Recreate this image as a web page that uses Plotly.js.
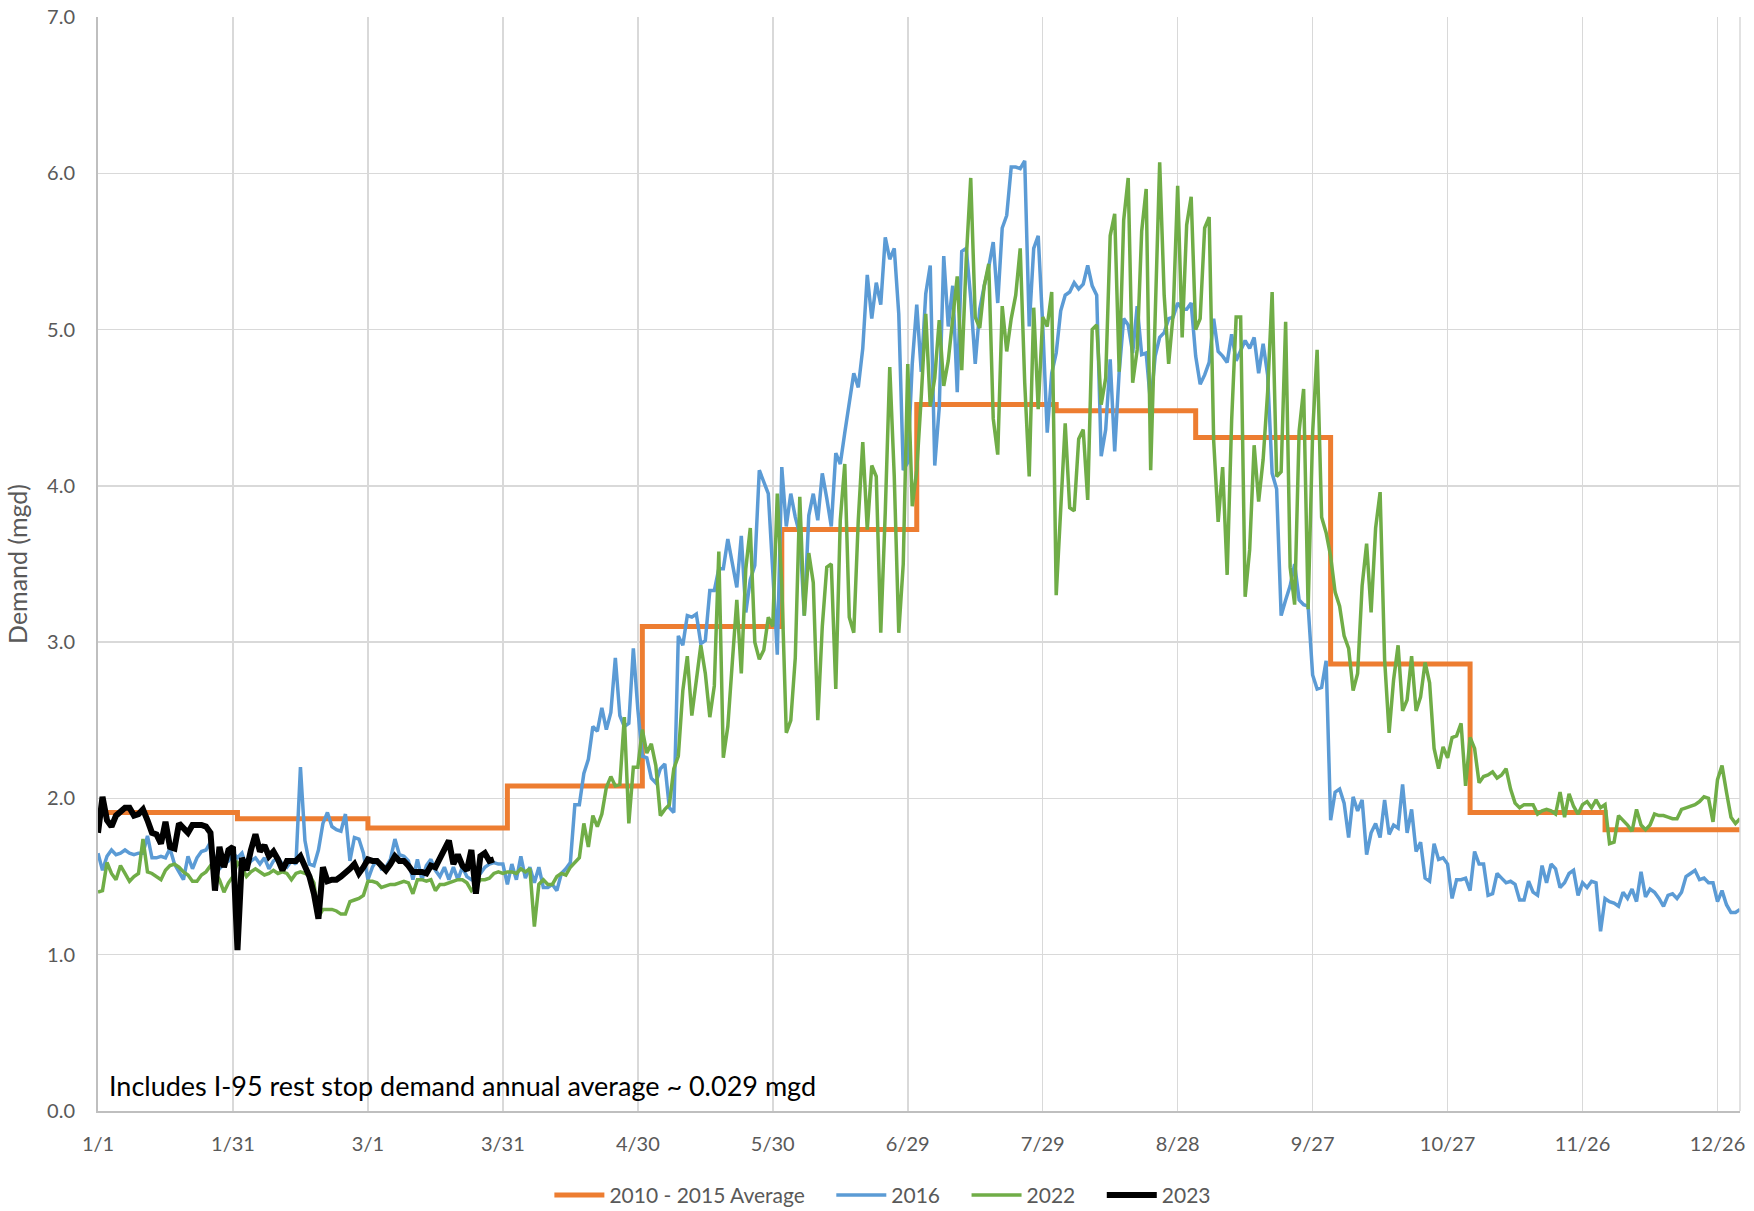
<!DOCTYPE html>
<html>
<head>
<meta charset="utf-8">
<script src="https://cdn.plot.ly/plotly-3.0.1.min.js"></script>
<style>html,body{margin:0;padding:0;background:#fff;}#chart{width:1754px;height:1211px;}</style>
</head>
<body>
<div id="chart"></div>
<script>
// ---- Data ----
const tickLabels = ['1/1','1/31','3/1','3/31','4/30','5/30','6/29','7/29','8/28','9/27','10/27','11/26','12/26'];
const seriesNames = ['2010 - 2015 Average', '2016', '2022', '2023'];
const monthLengths2016 = [31,29,31,30,31,30,31,31,30,31,30,31];
const avg2010_2015 = [1.91,1.87,1.81,2.08,3.10,3.72,4.52,4.48,4.31,2.86,1.91,1.80];

const demand2016 = [
1.65,1.54,1.63,1.67,1.64,1.65,1.67,1.65,1.64,1.65,
1.65,1.76,1.62,1.62,1.63,1.62,1.68,1.58,1.53,1.48,
1.63,1.55,1.62,1.66,1.67,1.72,1.60,1.55,1.58,1.60,
1.65,1.62,1.65,1.56,1.60,1.62,1.58,1.62,1.55,1.60,
1.62,1.58,1.56,1.60,1.58,2.20,1.73,1.58,1.57,1.67,
1.84,1.91,1.82,1.80,1.79,1.90,1.60,1.75,1.74,1.65,
1.48,1.56,1.61,1.55,1.56,1.61,1.74,1.64,1.63,1.60,
1.48,1.61,1.48,1.57,1.61,1.54,1.50,1.56,1.48,1.56,
1.48,1.56,1.50,1.48,1.50,1.52,1.56,1.58,1.59,1.58,
1.58,1.45,1.58,1.48,1.63,1.49,1.56,1.46,1.56,1.43,
1.43,1.45,1.41,1.52,1.55,1.59,1.96,1.96,2.16,2.25,
2.46,2.43,2.58,2.44,2.55,2.90,2.53,2.46,2.48,2.96,
2.57,2.27,2.26,2.13,2.10,2.19,2.22,1.94,1.91,3.04,
2.98,3.17,3.16,3.18,2.99,3.01,3.33,3.33,3.47,3.47,
3.66,3.49,3.35,3.68,3.19,3.40,3.49,4.10,4.02,3.95,
3.45,2.92,4.12,3.74,3.95,3.80,3.69,3.17,3.81,3.95,
3.78,4.08,3.92,3.74,4.21,4.14,4.34,4.52,4.72,4.63,
4.88,5.35,5.07,5.30,5.16,5.59,5.45,5.52,5.10,4.10,
4.15,4.78,5.16,4.73,5.23,5.41,4.13,4.50,5.47,5.02,
5.28,4.60,5.50,5.52,5.20,4.78,5.13,5.28,5.40,5.56,
5.17,5.65,5.73,6.04,6.04,6.03,6.08,5.02,5.52,5.60,
5.03,4.34,4.72,4.85,5.12,5.22,5.24,5.30,5.26,5.29,
5.41,5.28,5.22,4.19,4.36,4.81,4.22,4.73,5.07,5.03,
4.85,5.15,4.84,4.85,4.52,4.83,4.95,4.98,5.07,5.08,
5.17,5.13,5.13,5.17,4.83,4.65,4.71,4.79,5.07,4.86,
4.83,4.79,4.97,4.80,4.87,4.93,4.88,4.95,4.72,4.91,
4.71,4.08,3.98,3.17,3.27,3.36,3.50,3.27,3.24,3.23,
2.79,2.70,2.71,2.88,1.86,2.04,2.06,1.97,1.75,2.01,
1.92,1.99,1.64,1.78,1.84,1.75,1.99,1.77,1.83,1.81,
2.09,1.78,1.93,1.66,1.72,1.49,1.47,1.71,1.61,1.62,
1.58,1.36,1.48,1.48,1.49,1.41,1.66,1.58,1.58,1.38,
1.39,1.52,1.49,1.46,1.47,1.45,1.35,1.35,1.47,1.40,
1.38,1.57,1.46,1.58,1.55,1.43,1.46,1.52,1.54,1.38,
1.46,1.43,1.47,1.46,1.15,1.36,1.34,1.33,1.31,1.40,
1.36,1.42,1.34,1.53,1.37,1.42,1.40,1.36,1.31,1.38,
1.39,1.36,1.40,1.50,1.52,1.54,1.48,1.49,1.46,1.46,
1.34,1.41,1.32,1.27,1.27,1.29
];

const demand2022 = [
1.40,1.41,1.59,1.52,1.48,1.57,1.52,1.47,1.50,1.52,
1.74,1.53,1.52,1.50,1.48,1.54,1.57,1.58,1.56,1.53,
1.51,1.47,1.47,1.51,1.53,1.57,1.53,1.48,1.40,1.46,
1.50,1.59,1.56,1.50,1.53,1.55,1.53,1.51,1.52,1.54,
1.52,1.53,1.52,1.48,1.52,1.53,1.52,1.51,1.46,1.24,
1.29,1.29,1.29,1.28,1.26,1.26,1.34,1.35,1.36,1.38,
1.47,1.47,1.46,1.43,1.44,1.45,1.45,1.46,1.47,1.46,
1.39,1.48,1.48,1.47,1.48,1.41,1.45,1.45,1.46,1.47,
1.48,1.48,1.46,1.41,1.44,1.48,1.48,1.49,1.52,1.53,
1.52,1.53,1.53,1.52,1.55,1.53,1.55,1.18,1.45,1.48,
1.45,1.45,1.50,1.52,1.51,1.56,1.59,1.62,1.84,1.69,
1.89,1.82,1.90,2.07,2.14,2.08,2.09,2.52,1.84,2.20,
2.20,2.44,2.29,2.35,2.21,1.89,1.93,1.96,2.19,2.27,
2.69,2.91,2.53,2.76,2.98,2.80,2.52,2.72,3.58,2.26,
2.46,2.87,3.27,2.80,3.47,3.73,3.00,2.89,2.95,3.16,
3.10,3.95,3.36,2.42,2.50,2.90,3.93,3.17,3.57,3.38,
2.50,3.10,3.48,3.50,2.70,3.78,4.14,3.16,3.06,3.78,
4.28,3.72,4.13,4.06,3.06,3.83,4.76,4.06,3.06,3.50,
4.78,3.87,4.10,4.57,5.10,4.51,4.69,5.06,4.64,4.80,
5.06,5.34,4.74,5.45,5.97,5.08,5.01,5.28,5.42,4.43,
4.20,5.15,4.86,5.07,5.22,5.52,4.66,4.06,5.14,4.49,
5.08,5.02,5.24,3.30,3.85,4.40,3.86,3.84,4.30,4.36,
3.91,5.00,5.03,4.52,4.69,5.60,5.74,4.73,5.70,5.97,
4.66,4.87,5.63,5.90,4.10,5.13,6.07,5.22,4.78,5.10,
5.92,4.95,5.67,5.85,5.00,5.07,5.65,5.72,4.29,3.77,
4.12,3.43,4.42,5.08,5.08,3.29,3.59,4.26,3.90,4.17,
4.60,5.24,4.06,4.09,5.05,3.48,3.24,4.35,4.62,3.21,
4.34,4.87,3.80,3.70,3.55,3.32,3.23,3.04,2.96,2.69,
2.80,3.36,3.63,3.19,3.73,3.96,2.89,2.42,2.76,2.98,
2.56,2.63,2.91,2.56,2.65,2.87,2.74,2.32,2.19,2.33,
2.26,2.39,2.40,2.48,2.08,2.39,2.32,2.10,2.14,2.15,
2.17,2.13,2.15,2.19,2.06,1.97,1.94,1.96,1.96,1.96,
1.90,1.92,1.93,1.92,1.90,2.04,1.88,2.03,1.95,1.90,
1.96,1.98,1.94,1.99,1.94,1.96,1.71,1.72,1.89,1.86,
1.83,1.79,1.93,1.83,1.80,1.83,1.90,1.89,1.89,1.88,
1.87,1.87,1.93,1.94,1.95,1.96,1.98,2.01,2.00,1.85,
2.12,2.21,2.04,1.88,1.84,1.87
];

const demand2023 = [
1.78,2.01,1.86,1.82,1.89,1.91,1.94,1.94,1.89,1.90,
1.93,1.86,1.78,1.77,1.71,1.85,1.69,1.68,1.84,1.81,
1.78,1.83,1.83,1.83,1.82,1.78,1.41,1.69,1.56,1.67,
1.69,1.03,1.62,1.54,1.67,1.77,1.66,1.70,1.63,1.66,
1.61,1.54,1.60,1.60,1.60,1.63,1.57,1.50,1.39,1.23,
1.56,1.47,1.48,1.48,1.50,1.52,1.55,1.58,1.52,1.56,
1.61,1.60,1.60,1.57,1.54,1.58,1.63,1.60,1.60,1.57,
1.53,1.53,1.53,1.52,1.57,1.56,1.62,1.68,1.73,1.58,
1.64,1.57,1.54,1.67,1.39,1.63,1.65,1.60,1.61
];

// ---- Build traces ----
const dayIdx = arr => arr.map((_, i) => i);
const monthStart = [0];
monthLengths2016.forEach(len => monthStart.push(monthStart[monthStart.length - 1] + len));
const avgY = avg2010_2015.concat([avg2010_2015[avg2010_2015.length - 1]]);
const tickVals = tickLabels.map((_, i) => i * 30);
// legend spacing: pad all but the last entry with non-breaking spaces
const PAD = '\u00A0\u00A0\u00A0\u00A0';
const legendName = i => seriesNames[i] + (i < seriesNames.length - 1 ? PAD : '');

const FONT = 'Lato, "Open Sans", sans-serif';
const GREY = '#595959';

const traces = [
  {x: monthStart, y: avgY, name: legendName(0), mode: 'lines',
   line: {color: '#ED7D31', width: 5, shape: 'hv'}},
  {x: dayIdx(demand2016), y: demand2016, name: legendName(1), mode: 'lines',
   line: {color: '#5B9BD5', width: 3.5}},
  {x: dayIdx(demand2022), y: demand2022, name: legendName(2), mode: 'lines',
   line: {color: '#70AD47', width: 3.5}},
  {x: dayIdx(demand2023), y: demand2023, name: legendName(3), mode: 'lines',
   line: {color: '#000000', width: 6}}
];

const layout = {
  width: 1754, height: 1211,
  paper_bgcolor: '#ffffff', plot_bgcolor: '#ffffff',
  margin: {l: 98, r: 14, t: 17, b: 100, pad: 0, autoexpand: false},
  font: {family: FONT, color: GREY, size: 20},
  showlegend: true,
  xaxis: {
    range: [0, 365], tickmode: 'array', tickvals: tickVals, ticktext: tickLabels,
    showgrid: true, gridcolor: '#D9D9D9', gridwidth: 1.5, zeroline: false,
    showline: true, linecolor: '#BFBFBF', linewidth: 2,
    ticks: 'outside', ticklen: 14, tickcolor: 'rgba(0,0,0,0)',
    tickfont: {family: FONT, size: 20, color: GREY}, fixedrange: true
  },
  yaxis: {
    range: [0, 7], dtick: 1, tick0: 0, tickformat: '.1f',
    showgrid: true, gridcolor: '#D9D9D9', gridwidth: 1.5, zeroline: false,
    showline: true, linecolor: '#BFBFBF', linewidth: 2,
    ticks: 'outside', ticklen: 17, tickcolor: 'rgba(0,0,0,0)',
    tickfont: {family: FONT, size: 20, color: GREY},
    title: {text: 'Demand (mgd)', font: {family: FONT, size: 25, color: GREY}, standoff: 12},
    fixedrange: true
  },
  legend: {
    orientation: 'h', x: 0.478, xanchor: 'center', y: -0.077, yanchor: 'middle',
    font: {family: FONT, size: 21, color: GREY}, bgcolor: 'rgba(0,0,0,0)',
    traceorder: 'normal', itemwidth: 50
  },
  shapes: [
    {type: 'line', xref: 'paper', yref: 'paper', x0: 1, x1: 1, y0: 0, y1: 1,
     line: {color: '#D9D9D9', width: 1.5}}
  ],
  annotations: [
    {text: 'Includes I-95 rest stop demand annual average ~ 0.029 mgd',
     xref: 'paper', yref: 'paper', x: 0.0055, y: 0.0237, xanchor: 'left', yanchor: 'middle',
     showarrow: false, font: {family: FONT, size: 27, color: '#000000'}}
  ]
};

Plotly.newPlot('chart', traces, layout, {displayModeBar: false, staticPlot: true});
</script>
</body>
</html>
